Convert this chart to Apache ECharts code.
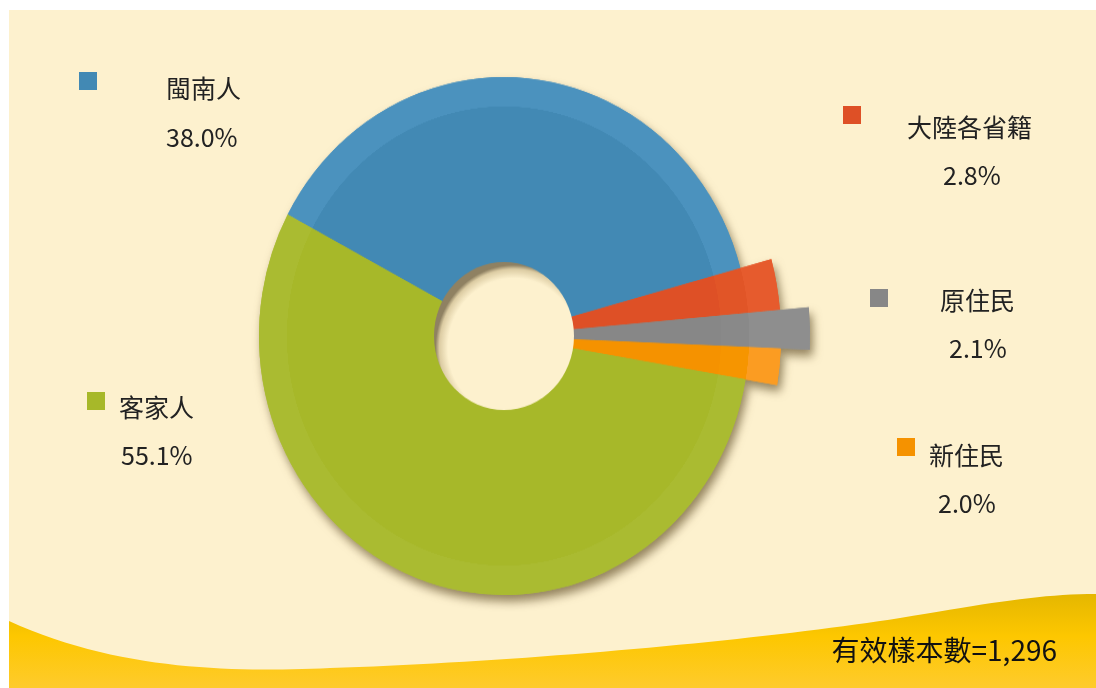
<!DOCTYPE html>
<html>
<head>
<meta charset="utf-8">
<script src="https://cdn.jsdelivr.net/npm/echarts@6/dist/echarts.min.js"></script>
<style>
  html, body { margin: 0; padding: 0; background: #fff; }
  #wrap { position: relative; width: 1096px; height: 688px; }
  #main, #pie { position: absolute; left: 0; top: 0; width: 1096px; height: 688px; }
  /* 原圖的圓環略為上下拉長 */
  #pie { transform: scaleY(1.057); transform-origin: 504px 336px; }
</style>
</head>
<body>
<div id="wrap">
  <div id="main"></div>
  <div id="pie"></div>
</div>
<script>
// 資料
var names = ['閩南人', '大陸各省籍', '原住民', '新住民', '客家人'];
var values = [38.0, 2.8, 2.1, 2.0, 55.1];
var sampleText = '有效樣本數=1,296';

// 樣式 (顏色: 內圈, 外環, 突出部分)
var baseColors = ['#4289b4', '#de5026', '#878787', '#f59200', '#a7b829'];
var rimColors  = ['#4b92be', '#e15527', '#898989', '#f69500', '#aabb31'];
var extColors  = ['#4b92be', '#e65b2d', '#8e8e8e', '#fb9c22', '#aabb31'];
var outerR = [245, 277, 306, 277, 245];
var cx = 504, cy = 336, holeR = 69, rimIn = 217, mainR = 245;

// 圖例位置
var legendPos = [
  { mx: 79,  my: 72,  nx: 166, ny: 88,  px: 166, py: 137 },
  { mx: 843, my: 106, nx: 907, ny: 127, px: 943, py: 175 },
  { mx: 870, my: 289, nx: 940, ny: 300, px: 949, py: 348 },
  { mx: 897, my: 438, nx: 929, ny: 455, px: 938, py: 503 },
  { mx: 87,  my: 392, nx: 119, ny: 407, px: 121, py: 455 }
];

var myChart = echarts.init(document.getElementById('main'));
var myChart1 = echarts.init(document.getElementById('pie'));

function fillFor(i) {
  var R = outerR[i];
  var a = rimIn / R, b = mainR / R;
  return {
    type: 'radial', x: cx, y: cy, r: R, global: true,
    colorStops: [
      { offset: 0, color: baseColors[i] },
      { offset: a, color: baseColors[i] },
      { offset: a + 0.001, color: rimColors[i] },
      { offset: Math.min(b, 0.999), color: rimColors[i] },
      { offset: Math.min(b + 0.001, 1), color: extColors[i] },
      { offset: 1, color: extColors[i] }
    ]
  };
}

function makeSeries(i, withShadow) {
  return {
    type: 'pie',
    center: [cx, cy],
    radius: [holeR, outerR[i]],
    startAngle: 152,
    clockwise: true,
    silent: true,
    animation: false,
    label: { show: false },
    labelLine: { show: false },
    z: withShadow ? 1 : 2,
    data: values.map(function (v, j) {
      var style = j === i ? { color: fillFor(i) } : { color: 'rgba(0,0,0,0)' };
      if (j === i && withShadow) {
        style.shadowBlur = 10;
        style.shadowOffsetX = 3;
        style.shadowOffsetY = 6;
        style.shadowColor = 'rgba(60,40,0,0.55)';
      }
      return { name: names[j], value: v, itemStyle: style };
    })
  };
}

var series = [];
for (var i = 0; i < names.length; i++) series.push(makeSeries(i, true));
for (var i = 0; i < names.length; i++) series.push(makeSeries(i, false));

// 底部波浪 (三次貝茲曲線取點)
function bez(p0, p1, p2, p3, n) {
  var pts = [];
  for (var k = 0; k <= n; k++) {
    var t = k / n, u = 1 - t;
    pts.push([
      u*u*u*p0[0] + 3*u*u*t*p1[0] + 3*u*t*t*p2[0] + t*t*t*p3[0],
      u*u*u*p0[1] + 3*u*u*t*p1[1] + 3*u*t*t*p2[1] + t*t*t*p3[1]
    ]);
  }
  return pts;
}
var wave = []
  .concat(bez([9, 621], [120, 672], [240, 672], [330, 668], 30))
  .concat(bez([330, 668], [520, 662], [760, 640], [900, 618], 40))
  .concat(bez([900, 618], [990, 603], [1040, 594], [1096, 594], 20));
wave.push([1096, 688], [9, 688]);

var graphics = [
  { type: 'rect', z: -10, shape: { x: 9, y: 10, width: 1087, height: 678 }, style: { fill: '#fdf1ce' } },
  {
    type: 'polygon', z: -9,
    shape: { points: wave },
    style: {
      fill: new echarts.graphic.LinearGradient(0, 0, 0, 1, [
        { offset: 0, color: '#e5b700' },
        { offset: 0.45, color: '#fdc700' },
        { offset: 1, color: '#fecb2c' }
      ])
    }
  },
  {
    type: 'text', z: 5, x: 1057, y: 650,
    style: { text: sampleText, fill: '#111', font: '28px "Noto Sans CJK TC"', align: 'right', verticalAlign: 'middle' }
  }
];

names.forEach(function (n, i) {
  var p = legendPos[i];
  graphics.push({ type: 'rect', z: 5, shape: { x: p.mx, y: p.my, width: 18, height: 18 }, style: { fill: baseColors[i] } });
  graphics.push({
    type: 'text', z: 5, x: p.nx, y: p.ny,
    style: { text: n, fill: '#222', font: '25px "Noto Sans CJK TC"', verticalAlign: 'middle' }
  });
  graphics.push({
    type: 'text', z: 5, x: p.px, y: p.py,
    style: { text: values[i].toFixed(1) + '%', fill: '#222', font: '25px "Noto Sans CJK TC"', verticalAlign: 'middle' }
  });
});

myChart.setOption({
  backgroundColor: '#ffffff',
  animation: false,
  graphic: { elements: graphics }
});

// 圓環
myChart1.setOption({
  backgroundColor: 'transparent',
  animation: false,
  graphic: {
    elements: [{
      type: 'circle', z: 100, shape: { cx: cx, cy: cy, r: holeR + 1 },
      style: {
        fill: new echarts.graphic.RadialGradient(0.57, 0.58, 0.56, [
          { offset: 0, color: '#fdf1ce' },
          { offset: 0.84, color: '#fdf1ce' },
          { offset: 0.95, color: '#dccca3' },
          { offset: 1, color: '#8f8162' }
        ])
      }
    }]
  },
  series: series
});

window.onresize = function () {
  myChart.resize();
  myChart1.resize();
};
</script>
</body>
</html>
